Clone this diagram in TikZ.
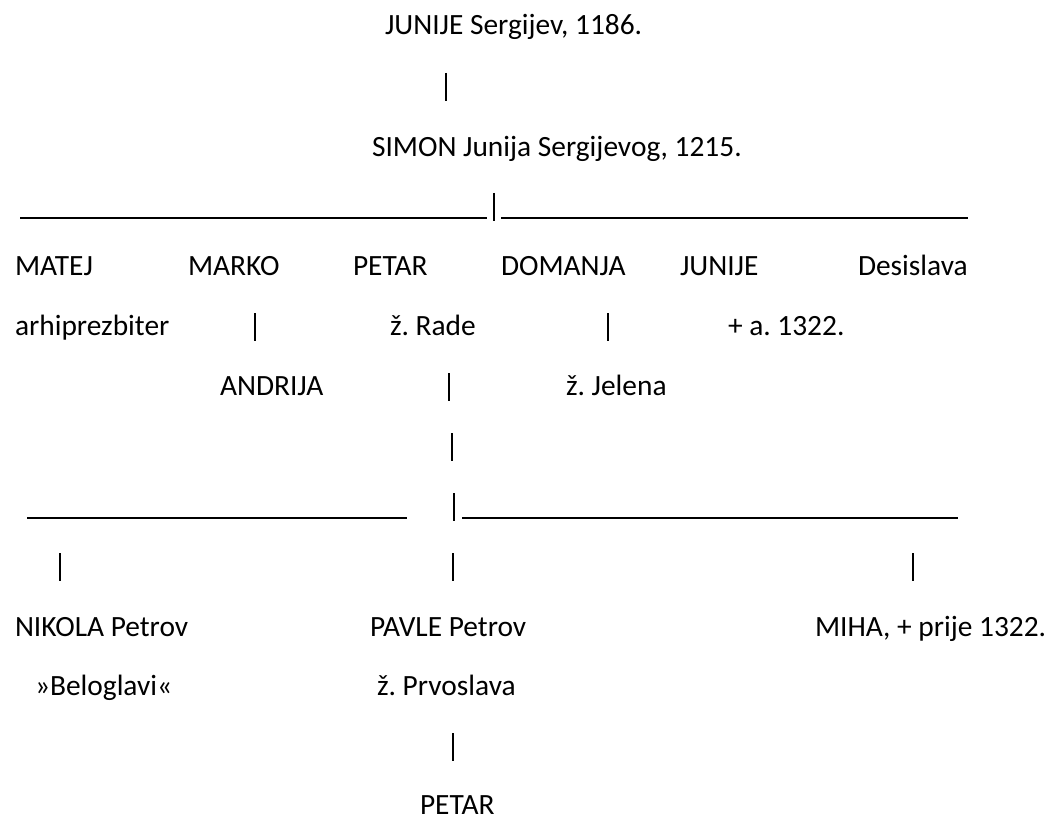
\documentclass[tikz,border=0pt]{standalone}
\usepackage{fontspec}
\setmainfont{Carlito}
\frenchspacing
\begin{document}
\begin{tikzpicture}[x=1pt,y=-1pt,
  lbl/.style={anchor=base west,inner sep=0pt,outer sep=0pt,font=\fontsize{29.4}{35}\selectfont},
  bar/.style={line width=1.3pt},
  rule/.style={line width=1.6pt}]
\useasboundingbox (0,0) rectangle (1048,818);
% row 1
\node[lbl] (junije) at (385,35) {JUNIJE Sergijev, 1186.};
\coordinate (p1t) at (446,73); \coordinate (p1b) at (446,101);
\draw[bar] (p1t) -- (p1b);
\node[lbl] (simon) at (372,157) {SIMON Junija Sergijevog, 1215.};
% children rule
\coordinate (r1a) at (20,218); \coordinate (r1b) at (487,218);
\coordinate (r1c) at (501,218); \coordinate (r1d) at (968,218);
\draw[rule] (r1a) -- (r1b);
\draw[rule] (r1c) -- (r1d);
\coordinate (p2t) at (494,193); \coordinate (p2b) at (494,221);
\draw[bar] (p2t) -- (p2b);
% children
\node[lbl] (matej) at (15,275) {MATEJ};
\node[lbl] (marko) at (188,275) {MARKO};
\node[lbl] (petar) at (353,275) {PETAR};
\node[lbl] (domanja) at (501,275) {DOMANJA};
\node[lbl] (junije2) at (680,275) {JUNIJE};
\node[lbl] (desislava) at (858,275) {Desislava};
\node[lbl] (arhi) at (15,335) {arhiprezbiter};
\coordinate (p3t) at (255,313); \coordinate (p3b) at (255,341);
\draw[bar] (p3t) -- (p3b);
\node[lbl] (rade) at (390,335) {ž. Rade};
\coordinate (p4t) at (608,313); \coordinate (p4b) at (608,341);
\draw[bar] (p4t) -- (p4b);
\node[lbl] (death) at (728,335) {+ a. 1322.};
\node[lbl] (andrija) at (220,395) {ANDRIJA};
\coordinate (p5t) at (449,373); \coordinate (p5b) at (449,401);
\draw[bar] (p5t) -- (p5b);
\node[lbl] (jelena) at (566,395) {ž. Jelena};
\coordinate (p6t) at (452,433); \coordinate (p6b) at (452,461);
\draw[bar] (p6t) -- (p6b);
% grandchildren rule
\coordinate (r2a) at (27,518); \coordinate (r2b) at (407,518);
\coordinate (r2c) at (462,518); \coordinate (r2d) at (958,518);
\draw[rule] (r2a) -- (r2b);
\draw[rule] (r2c) -- (r2d);
\coordinate (p7t) at (454,493); \coordinate (p7b) at (454,521);
\draw[bar] (p7t) -- (p7b);
\coordinate (p8t) at (60,553); \coordinate (p8b) at (60,581);
\draw[bar] (p8t) -- (p8b);
\coordinate (p9t) at (453,553); \coordinate (p9b) at (453,581);
\draw[bar] (p9t) -- (p9b);
\coordinate (p10t) at (913,553); \coordinate (p10b) at (913,581);
\draw[bar] (p10t) -- (p10b);
% grandchildren
\node[lbl] (nikola) at (15,636) {NIKOLA Petrov};
\node[lbl] (pavle) at (370,636) {PAVLE Petrov};
\node[lbl] (miha) at (815,636) {MIHA, + prije 1322.};
\node[lbl] (belo) at (35,695) {»Beloglavi«};
\node[lbl] (prvo) at (377,695) {ž. Prvoslava};
\coordinate (p11t) at (453,733); \coordinate (p11b) at (453,761);
\draw[bar] (p11t) -- (p11b);
\node[lbl] (petar2) at (420,814) {PETAR};
\end{tikzpicture}
\end{document}
